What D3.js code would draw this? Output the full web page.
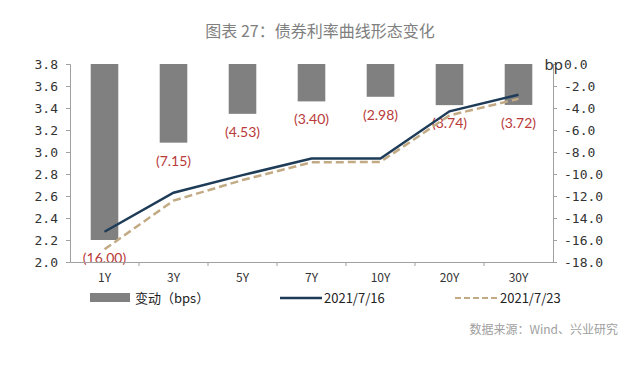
<!DOCTYPE html>
<html>
<head>
<meta charset="utf-8">
<script src="https://cdn.jsdelivr.net/npm/d3@7"></script>
<style>
  body { margin: 0; background: #fff; }
  svg { display: block; }
</style>
</head>
<body>
<svg id="chart" width="640" height="365"></svg>
<script>
    "use strict";

    //Chart data
    var tenors = ["1Y", "3Y", "5Y", "7Y", "10Y", "20Y", "30Y"];
    var change = [-16.00, -7.15, -4.53, -3.40, -2.98, -3.74, -3.72];
    var yield0716 = [2.275, 2.63, 2.79, 2.94, 2.94, 3.37, 3.52];
    var yield0723 = [2.115, 2.558, 2.745, 2.906, 2.910, 3.333, 3.483];
    var leftTicks = [2.0, 2.2, 2.4, 2.6, 2.8, 3.0, 3.2, 3.4, 3.6, 3.8];
    var rightTicks = [0, -2, -4, -6, -8, -10, -12, -14, -16, -18];

    var plotLeft = 70, plotRight = 553, plotTop = 64, plotBottom = 262;
    var monoFont = "'DejaVu Sans Mono', monospace";
    var sansFont = "'Noto Sans CJK SC', 'Noto Sans', sans-serif";

    var svg = d3.select("#chart");

    var x = d3.scaleBand().domain(tenors).range([plotLeft, plotRight])
        .paddingInner(0.6).paddingOuter(0.3);
    var yL = d3.scaleLinear().domain([2.0, 3.8]).range([plotBottom, plotTop]);
    var yR = d3.scaleLinear().domain([-18, 0]).range([plotBottom, plotTop]);

    //Title
    svg.append("text")
        .attr("x", 320).attr("y", 37)
        .attr("text-anchor", "middle")
        .style("font-family", sansFont)
        .style("font-size", "16px")
        .style("fill", "#808080")
        .text("图表 27：债券利率曲线形态变化");

    //Bars
    svg.selectAll(".bar")
        .data(tenors)
        .enter().append("rect")
        .attr("class", "bar")
        .attr("x", function (d) { return x(d); })
        .attr("width", x.bandwidth())
        .attr("y", yR(0))
        .attr("height", function (d, i) { return yR(change[i]) - yR(0); })
        .style("fill", "#808080");

    //Bar labels
    svg.selectAll(".blabel")
        .data(tenors)
        .enter().append("text")
        .attr("class", "blabel")
        .attr("x", function (d) { return x(d) + x.bandwidth() / 2; })
        .attr("y", function (d, i) { return yR(change[i]) + 23; })
        .attr("text-anchor", "middle")
        .style("font-family", "Lato, 'Open Sans', sans-serif")
        .style("font-size", "14px")
        .style("fill", "#b83a3a")
        .text(function (d, i) { return "(" + Math.abs(change[i]).toFixed(2) + ")"; });

    //Axes
    var axisColour = "#a0a0a0";
    var gL = svg.append("g").attr("transform", "translate(" + plotLeft + ",0)")
        .call(d3.axisLeft(yL).tickValues(leftTicks).tickSize(4).tickPadding(8)
            .tickFormat(function (d) { return d.toFixed(1); }));
    var gR = svg.append("g").attr("transform", "translate(" + plotRight + ",0)")
        .call(d3.axisRight(yR).tickValues(rightTicks).tickSize(4).tickPadding(7)
            .tickFormat(function (d) { return (d < 0 ? "-" : "") + Math.abs(d).toFixed(1); }));
    var gX = svg.append("g").attr("transform", "translate(0," + plotBottom + ")")
        .call(d3.axisBottom(x).tickSize(0).tickPadding(11));

    [gL, gR].forEach(function (g) {
        g.select(".domain").attr("stroke", axisColour);
        g.selectAll(".tick line").attr("stroke", axisColour);
        g.selectAll("text").style("font-family", monoFont).style("font-size", "13px").style("fill", "#333");
    });
    gX.select(".domain").attr("stroke", axisColour);
    gX.selectAll("text").style("font-family", sansFont).style("font-size", "12px").style("fill", "#333");

    //Category boundary ticks
    var step = x.step();
    var bounds = tenors.slice(1).map(function (d) { return x(d) - (step - x.bandwidth()) / 2; });
    svg.selectAll(".xtick")
        .data(bounds)
        .enter().append("line")
        .attr("x1", function (d) { return d; }).attr("x2", function (d) { return d; })
        .attr("y1", plotBottom).attr("y2", plotBottom + 4)
        .attr("stroke", axisColour);

    svg.append("text")
        .attr("x", 563).attr("y", 70)
        .attr("text-anchor", "end")
        .style("font-family", "'Noto Sans', sans-serif")
        .style("font-size", "15px")
        .style("fill", "#333")
        .text("bp");

    //Lines
    var line = function (vals) {
        return d3.line()
            .x(function (d) { return x(d) + x.bandwidth() / 2; })
            .y(function (d, i) { return yL(vals[i]); })(tenors);
    };
    svg.append("path")
        .attr("d", line(yield0723))
        .attr("fill", "none")
        .attr("stroke", "#c2ab84")
        .attr("stroke-width", 2.5)
        .attr("stroke-dasharray", "8,4");
    svg.append("path")
        .attr("d", line(yield0716))
        .attr("fill", "none")
        .attr("stroke", "#1e3b57")
        .attr("stroke-width", 2.5);

    //Legend
    var ly = 298;
    svg.append("rect").attr("x", 90).attr("y", ly - 5).attr("width", 40).attr("height", 9)
        .style("fill", "#808080");
    svg.append("line").attr("x1", 280).attr("x2", 322).attr("y1", ly).attr("y2", ly)
        .attr("stroke", "#1e3b57").attr("stroke-width", 2.5);
    svg.append("line").attr("x1", 455).attr("x2", 498).attr("y1", ly).attr("y2", ly)
        .attr("stroke", "#c2ab84").attr("stroke-width", 2).attr("stroke-dasharray", "6,3");
    var legendItems = [
        { x: 135, t: "变动（bps）" },
        { x: 324, t: "2021/7/16" },
        { x: 500, t: "2021/7/23" }
    ];
    svg.selectAll(".ltext")
        .data(legendItems)
        .enter().append("text")
        .attr("x", function (d) { return d.x; })
        .attr("y", ly + 5)
        .style("font-family", sansFont)
        .style("font-size", "13px")
        .style("fill", "#222")
        .text(function (d) { return d.t; });

    //Source
    svg.append("text")
        .attr("x", 618).attr("y", 334)
        .attr("text-anchor", "end")
        .style("font-family", sansFont)
        .style("font-size", "12px")
        .style("fill", "#a0a0a0")
        .text("数据来源：Wind、兴业研究");
</script>
</body>
</html>
